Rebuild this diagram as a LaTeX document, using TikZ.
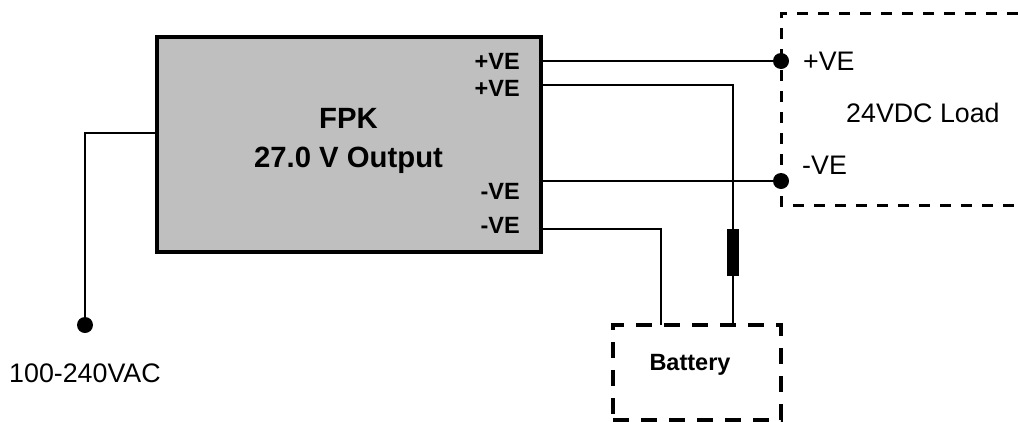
\documentclass[tikz,border=0pt]{standalone}
\usepackage{fontspec}
\setmainfont{Liberation Sans}
\begin{document}
\begin{tikzpicture}[x=1pt,y=-1pt,
  wire/.style={draw=black,line width=2pt},
  dot/.style={circle,fill=black,inner sep=0pt,minimum size=16pt,draw=none},
  lab/.style={inner sep=0pt,font=\fontsize{26.8}{26.8}\selectfont},
  blab/.style={inner sep=0pt,font=\fontsize{23.5}{23.5}\selectfont\bfseries,anchor=east},
  ]
\useasboundingbox (0,0) rectangle (1018,421);
\node[draw=black,line width=4pt,fill=black!25,minimum width=384pt,minimum height=215pt,inner sep=0pt,anchor=north west] (fpk) at (155,35) {};
\node[inner sep=0pt,font=\fontsize{29.3}{39}\selectfont\bfseries,align=center] (title) at (348.5,141) {FPK\\27.0 V Output};
\node[blab] (p1) at (520,61) {+VE};
\node[blab] (p2) at (520,88) {+VE};
\node[blab] (n1) at (520,191) {-VE};
\node[blab] (n2) at (520,225) {-VE};
\coordinate (t1) at (541,61);
\coordinate (t2) at (541,85);
\coordinate (t3) at (541,181);
\coordinate (t4) at (541,229);
\coordinate (tin) at (157,133);
% load box
\coordinate (la) at (1018,13);
\coordinate (lb) at (781,13);
\coordinate (lc) at (781,205);
\coordinate (ld) at (1018,205);
\draw[draw=black,dash pattern=on 11pt off 10pt,line width=3pt] (la) -- (lb) -- (lc) -- (ld);
% battery box
\node[draw=black,dash pattern=on 16pt off 12pt,line width=4pt,minimum width=168pt,minimum height=95pt,inner sep=0pt,anchor=north west] (bat) at (611,323) {};
\node[inner sep=0pt,font=\fontsize{23.5}{28}\selectfont\bfseries] (batl) at (690,365) {Battery};
% dots
\node[dot] (d1) at (781,61) {};
\node[dot] (d2) at (781,181) {};
\node[dot] (d3) at (85,325) {};
% fuse
\node[fill=black,minimum width=12pt,minimum height=47pt,inner sep=0pt,draw=none] (fuse) at (733,252.5) {};
% wires
\draw[wire] (t1) -- (d1);
\draw[wire] (t3) -- (d2);
\draw[wire] (t2) -| (fuse.north);
\draw[wire] (fuse.south) -- (733,325);
\draw[wire] (t4) -| (661,325);
\draw[wire] (tin) -| (d3);
% labels
\node[lab,anchor=west] (lp) at (803,61) {+VE};
\node[lab,anchor=west] (ln) at (802,165) {-VE};
\node[lab,anchor=west] (ll) at (846,113) {24VDC Load};
\node[lab,anchor=west] (ac) at (9,373) {100-240VAC};
\end{tikzpicture}
\end{document}
